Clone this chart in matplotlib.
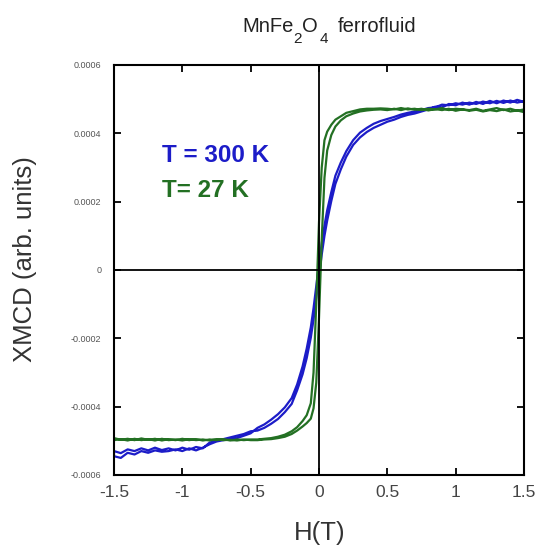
import matplotlib
matplotlib.use("Agg")
import matplotlib.pyplot as plt
import numpy as np

plt.rcParams['font.family'] = ['Liberation Sans', 'DejaVu Sans']

# Field grid (T)
H = [-1.50, -1.45, -1.40, -1.35, -1.30, -1.25, -1.20, -1.15, -1.10, -1.05, -1.00,
     -0.95, -0.90, -0.85, -0.80, -0.75, -0.70, -0.65, -0.60, -0.55, -0.50,
     -0.45, -0.40, -0.35, -0.30, -0.25, -0.20,
     -0.16, -0.12, -0.09, -0.06, -0.04, -0.02, 0.00, 0.02, 0.04, 0.06, 0.09, 0.12, 0.16,
     0.20, 0.25, 0.30, 0.35, 0.40, 0.45,
     0.50, 0.55, 0.60, 0.65, 0.70, 0.75, 0.80, 0.85, 0.90, 0.95, 1.00,
     1.05, 1.10, 1.15, 1.20, 1.25, 1.30, 1.35, 1.40, 1.45, 1.50]

# XMCD in units of 1e-4
blue_down = [-5.45, -5.50, -5.35, -5.40, -5.30, -5.35, -5.28, -5.32, -5.30, -5.25, -5.30,
             -5.22, -5.28, -5.20, -5.10, -5.02, -4.98, -4.95, -4.92, -4.85, -4.78,
             -4.62, -4.52, -4.38, -4.22, -4.02, -3.75,
             -3.35, -2.82, -2.30, -1.68, -1.12, -0.48, 0.18, 0.78, 1.30, 1.75, 2.28, 2.76, 3.15,
             3.48, 3.80, 4.02, 4.16, 4.28, 4.36,
             4.42, 4.48, 4.55, 4.60, 4.64, 4.68, 4.74, 4.76, 4.84, 4.82, 4.88,
             4.84, 4.90, 4.86, 4.93, 4.88, 4.95, 4.89, 4.96, 4.90, 4.94]
blue_up = [-5.30, -5.36, -5.25, -5.30, -5.22, -5.28, -5.20, -5.27, -5.22, -5.28, -5.20,
           -5.26, -5.18, -5.22, -5.05, -5.00, -4.95, -4.90, -4.85, -4.80, -4.72,
           -4.70, -4.62, -4.50, -4.36, -4.16, -3.92,
           -3.52, -3.05, -2.58, -1.98, -1.45, -0.82, -0.18, 0.45, 1.00, 1.45, 2.02, 2.52, 2.95,
           3.32, 3.66, 3.88, 4.04, 4.16, 4.25,
           4.34, 4.40, 4.48, 4.54, 4.58, 4.64, 4.70, 4.78, 4.76, 4.86, 4.82,
           4.90, 4.84, 4.92, 4.86, 4.95, 4.88, 4.96, 4.90, 4.98, 4.92]

green_down = [-4.92, -4.97, -4.94, -4.98, -4.93, -4.97, -4.94, -4.99, -4.95, -4.98, -4.94,
              -4.98, -4.95, -4.99, -4.96, -4.98, -4.95, -4.99, -4.96, -4.98, -4.96,
              -4.96, -4.94, -4.92, -4.88, -4.82, -4.72,
              -4.60, -4.42, -4.25, -3.90, -3.00, -1.00, 1.40, 3.00, 3.80, 4.05, 4.25, 4.40, 4.50,
              4.60, 4.65, 4.70, 4.72, 4.72, 4.73,
              4.72, 4.70, 4.74, 4.70, 4.72, 4.68, 4.72, 4.70, 4.74, 4.68, 4.72,
              4.70, 4.68, 4.72, 4.66, 4.70, 4.74, 4.68, 4.72, 4.66, 4.70]
green_up = [-4.98, -4.95, -4.99, -4.94, -4.98, -4.95, -4.99, -4.94, -4.98, -4.96, -4.99,
            -4.95, -4.98, -4.96, -4.99, -4.95, -4.98, -4.97, -4.99, -4.96, -4.98,
            -4.98, -4.96, -4.95, -4.92, -4.88, -4.80,
            -4.70, -4.58, -4.48, -4.35, -4.05, -3.30, -1.40, 0.90, 2.70, 3.50, 3.95, 4.20, 4.38,
            4.50, 4.58, 4.64, 4.67, 4.69, 4.70,
            4.68, 4.72, 4.68, 4.73, 4.69, 4.72, 4.67, 4.71, 4.68, 4.72, 4.66,
            4.70, 4.66, 4.69, 4.64, 4.68, 4.65, 4.70, 4.64, 4.67, 4.62]

SCALE = 1e-4
x_ticks = [-1.5, -1, -0.5, 0, 0.5, 1, 1.5]
x_ticklabels = ["-1.5", "-1", "-0.5", "0", "0.5", "1", "1.5"]
y_ticks = [-0.0006, -0.0004, -0.0002, 0, 0.0002, 0.0004, 0.0006]
y_ticklabels = ["-0.0006", "-0.0004", "-0.0002", "0", "0.0002", "0.0004", "0.0006"]

BLUE = "#1c1cc8"
GREEN = "#237023"
W, Hpx = 536, 548

fig = plt.figure(figsize=(5.36, 5.48), dpi=100)
ax = fig.add_axes([114 / W, 1 - 475 / Hpx, 410 / W, 410 / Hpx])

Harr = np.array(H)
for down, up, col in [(blue_down, blue_up, BLUE), (green_down, green_up, GREEN)]:
    xs = np.concatenate([Harr[::-1], Harr])
    ys = np.concatenate([np.array(down)[::-1], np.array(up)]) * SCALE
    ax.plot(xs, ys, color=col, lw=1.6, solid_joinstyle="round")

ax.axhline(0, color="black", lw=1.3, zorder=3)
ax.axvline(0, color="black", lw=1.3, zorder=3)

ax.set_xlim(-1.5, 1.5)
ax.set_ylim(-0.0006, 0.0006)
ax.set_xticks(x_ticks)
ax.set_xticklabels(x_ticklabels, fontsize=12.5, color="#444444")
ax.set_yticks(y_ticks)
ax.set_yticklabels(y_ticklabels, fontsize=6.5, color="#555555")
ax.tick_params(axis="both", direction="in", top=True, right=True, length=5, width=1.3)
ax.tick_params(axis="x", pad=7)
ax.tick_params(axis="y", pad=9)
for s in ax.spines.values():
    s.set_linewidth(1.5)

# axis labels
fig.text(320 / W, 1 - 533 / Hpx, "H(T)", fontsize=18.5, color="#333333",
         ha="center", va="center")
fig.text(25 / W, 1 - 259 / Hpx, "XMCD (arb. units)", fontsize=18.5, color="#333333",
         rotation=90, ha="center", va="center")

# title pieces: MnFe2O4 ferrofluid with low subscripts
title_main = 14.5
title_sub = 11
for txt, x, base, fs in [("MnFe", 242, 32, title_main), ("2", 293, 43, title_sub),
                         ("O", 302, 32, title_main), ("4", 320, 43, title_sub),
                         ("ferrofluid", 338, 32, title_main)]:
    fig.text(x / W, 1 - base / Hpx, txt, fontsize=fs, color="#222222",
             ha="left", va="baseline")

ax.text(-1.149, 0.000335, "T = 300 K", color=BLUE, fontsize=17.5, fontweight="bold",
        ha="left", va="center")
ax.text(-1.149, 0.000233, "T= 27 K", color=GREEN, fontsize=17.5, fontweight="bold",
        ha="left", va="center")

fig.savefig("out.png", dpi=100)
